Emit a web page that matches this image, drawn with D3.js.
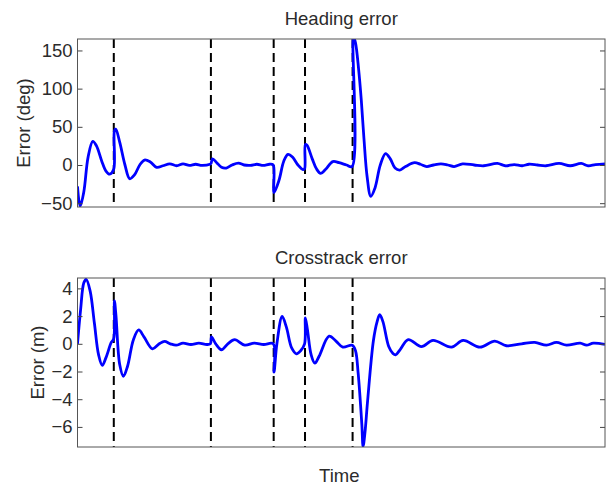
<!DOCTYPE html>
<html>
<head>
<meta charset="utf-8">
<script src="https://cdn.jsdelivr.net/npm/d3@7"></script>
<style>
  body { margin: 0; background: #fff; }
  svg text { font-family: "Liberation Sans", Arial, sans-serif; fill: #2b2b2b; }
</style>
</head>
<body>
<svg></svg>
<script>
// time of each waypoint switch (dashed lines)
var eventTimes = [6.88, 25.29, 37.19, 43.13, 52.15];

// heading error [time, deg]
var headingErr = [
  [0, -28], [0.5, -54], [1.2, -35], [2.0, 10], [2.9, 31], [3.6, 25], [4.6, 5], [5.4, -8],
  [6.1, -12], [6.85, -6], [7.0, 45], [7.25, 47], [8.0, 30], [9.0, 0], [9.9, -18], [10.8, -13],
  [11.8, 0], [12.7, 6.5], [13.8, 4], [15.0, -3], [16.2, -1], [17.5, 1.5], [18.8, -1], [20.0, 1.5],
  [21.2, -0.5], [22.4, 1], [23.6, -0.5], [25.1, 1], [25.3, 2], [25.6, 8], [26.4, 3], [27.3, -3],
  [28.2, -4], [29.3, 0], [30.5, 2.5], [31.6, 0], [32.8, -0.5], [34.0, 1], [35.2, -0.5], [36.4, 1],
  [37.1, 0], [37.25, -36], [38.2, -20], [39.1, 5], [39.9, 14], [40.8, 10], [41.8, 0], [42.75, -6],
  [43.05, -5], [43.2, 27], [43.5, 26], [44.5, 8], [45.3, -5], [46.1, -11], [47.0, -6], [48.4, 4.5],
  [49.6, 3], [51.0, 0], [52.05, -2], [52.3, 168], [52.7, 160], [53.3, 125], [53.8, 85], [54.3, 35],
  [54.9, -15], [55.6, -41], [56.4, -30], [57.4, 0], [58.4, 15], [59.3, 8], [60.2, -4], [61.1, -6.6],
  [62.2, -2], [63.9, 3], [65.0, 1], [66.2, -2], [67.5, 0], [68.9, 1.5], [70.2, 0], [71.4, -2],
  [73.0, 1.5], [75.2, 0], [77.0, -1], [79.6, 2], [81.1, -1], [82.8, 0.5], [84.3, -1], [85.6, 1],
  [87.2, 0], [88.8, -1], [91.3, 2], [93.4, -1], [95.5, 2], [96.8, -1], [98.2, 0.5], [100, 1.5]
];

// crosstrack error [time, m]
var crossErr = [
  [0, 0], [0.6, 2.5], [1.2, 4.4], [1.65, 4.65], [2.4, 3.8], [3.2, 1.5], [4.0, -0.8], [4.7, -1.56],
  [5.4, -1.0], [6.4, 0.1], [6.85, 0.35], [7.0, 3.1], [7.3, 2.0], [8.0, -1.5], [8.7, -2.35],
  [9.5, -1.6], [10.6, 0.3], [11.6, 1.0], [12.6, 0.5], [14.2, -0.36], [15.5, 0], [16.5, 0.17],
  [17.6, 0], [18.7, -0.1], [20.0, 0.05], [21.5, -0.05], [23.0, 0.05], [24.5, -0.05], [25.2, 0],
  [25.4, 0.5], [26.2, 0], [27.3, -0.43], [28.5, 0], [29.8, 0.3], [31.7, -0.1], [33.5, 0.05],
  [35.3, -0.05], [37.1, 0], [37.25, -2.05], [37.8, 0], [38.8, 1.97], [39.6, 1.2], [40.6, -0.3],
  [41.5, -0.72], [42.3, -0.5], [43.05, 0], [43.2, 1.87], [43.6, 1.0], [44.3, -0.8], [45.0, -1.4],
  [45.8, -0.9], [47.7, 0.55], [49.0, 0.2], [50.3, -0.24], [52.1, -0.1], [52.7, -0.5], [53.2, -2.1],
  [53.9, -5.8], [54.14, -7.4], [54.5, -6.4], [55.0, -4.1], [56.1, 0.24], [56.8, 1.6], [57.3, 2.1],
  [57.9, 1.6], [59.0, -0.2], [59.8, -0.7], [60.3, -0.8], [61.2, -0.4], [62.7, 0.3], [65.2, -0.2],
  [67.4, 0.24], [70.9, -0.24], [73.1, 0.24], [76.3, -0.24], [79.1, 0.2], [81.3, -0.14], [84.2, 0],
  [86.7, 0.1], [88.9, -0.1], [90.8, 0.1], [92.7, -0.1], [95.3, 0.05], [96.5, -0.1], [97.8, 0.05],
  [100, -0.05]
];

var headingTicks = [-50, 0, 50, 100, 150];
var crossTicks = [-6, -4, -2, 0, 2, 4];

var svgDS = { width: 610, height: 487 };
var left = 77.5, right = 605;

var panels = [
  { id: 'hd', title: 'Heading error', ylabel: 'Error (deg)', data: headingErr, ticks: headingTicks,
    domain: [-55, 165], top: 39, bottom: 207, titleY: 25, labelX: 30 },
  { id: 'ct', title: 'Crosstrack error', ylabel: 'Error (m)', data: crossErr, ticks: crossTicks,
    domain: [-7.45, 4.75], top: 278, bottom: 447, titleY: 264, labelX: 44 }
];

var $svg = d3.select('svg')
  .attr('width', svgDS.width)
  .attr('height', svgDS.height);

var x = d3.scaleLinear().domain([0, 100]).range([left, right]);

panels.forEach(function(p) {
  var y = d3.scaleLinear().domain(p.domain).range([p.bottom, p.top]);
  var g = $svg.append('g');

  g.append('clipPath').attr('id', 'clip-' + p.id)
    .append('rect')
    .attr('x', left).attr('y', p.top)
    .attr('width', right - left).attr('height', p.bottom - p.top);

  // dashed switch lines
  g.selectAll('line.ev').data(eventTimes).enter().append('line')
    .attr('class', 'ev')
    .attr('x1', function(d) { return x(d); })
    .attr('x2', function(d) { return x(d); })
    .attr('y1', p.top).attr('y2', p.bottom)
    .attr('stroke', '#000')
    .attr('stroke-width', 2)
    .attr('stroke-dasharray', '9,5');

  var line = d3.line()
    .x(function(d) { return x(d[0]); })
    .y(function(d) { return y(d[1]); })
    .curve(d3.curveCatmullRom.alpha(0.5));

  g.append('path').datum(p.data)
    .attr('clip-path', 'url(#clip-' + p.id + ')')
    .attr('d', line)
    .attr('fill', 'none')
    .attr('stroke', '#0000ff')
    .attr('stroke-width', 2.8)
    .attr('stroke-linejoin', 'round');

  // axes: ticks pointing inward on both sides
  var yl = g.append('g').attr('transform', 'translate(' + left + ',0)')
    .call(d3.axisLeft(y).tickValues(p.ticks).tickSize(-5).tickPadding(5));
  var yr = g.append('g').attr('transform', 'translate(' + right + ',0)')
    .call(d3.axisRight(y).tickValues(p.ticks).tickSize(-5).tickFormat(''));
  [yl, yr].forEach(function(a) {
    a.select('.domain').remove();
    a.selectAll('line').attr('stroke', '#444');
  });
  yl.selectAll('text').style('font-size', '18.5px')
    .style('font-family', '"Liberation Sans", Arial, sans-serif')
    .attr('fill', '#2b2b2b');

  g.append('rect')
    .attr('x', left).attr('y', p.top)
    .attr('width', right - left).attr('height', p.bottom - p.top)
    .attr('fill', 'none')
    .attr('stroke', '#555')
    .attr('stroke-width', 1);

  g.append('text')
    .attr('x', (left + right) / 2).attr('y', p.titleY)
    .attr('text-anchor', 'middle')
    .style('font-size', '18.5px')
    .text(p.title);

  g.append('text')
    .attr('transform', 'translate(' + p.labelX + ',' + ((p.top + p.bottom) / 2) + ') rotate(-90)')
    .attr('text-anchor', 'middle')
    .style('font-size', '18.5px')
    .text(p.ylabel);
});

$svg.append('text')
  .attr('x', (left + right) / 2 - 2).attr('y', 482)
  .attr('text-anchor', 'middle')
  .style('font-size', '18.5px')
  .text('Time');
</script>
</body>
</html>
